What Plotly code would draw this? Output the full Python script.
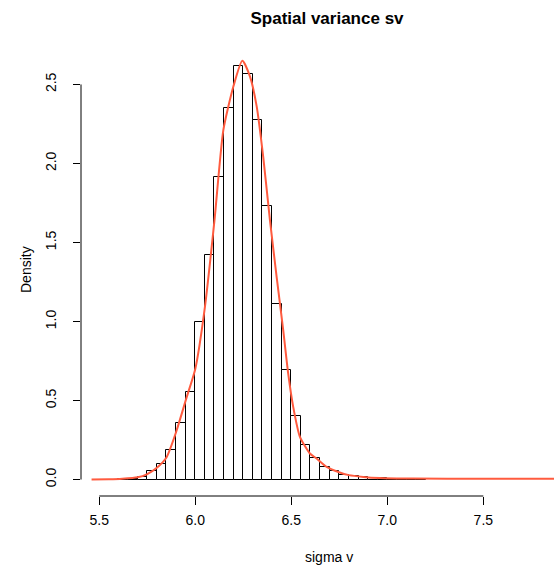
import plotly.graph_objects as go

# Histogram bins (left edges) and densities
bin_left = [5.60, 5.65, 5.70, 5.75, 5.80, 5.85, 5.90, 5.95, 6.00, 6.05, 6.10, 6.15,
            6.20, 6.25, 6.30, 6.35, 6.40, 6.45, 6.50, 6.55, 6.60, 6.65, 6.70, 6.75,
            6.80, 6.85, 6.90, 6.95, 7.00, 7.05, 7.10, 7.15]
bin_density = [0.002, 0.006, 0.017, 0.053, 0.100, 0.185, 0.360, 0.555, 0.997, 1.424,
               1.915, 2.352, 2.616, 2.567, 2.278, 1.732, 1.114, 0.696, 0.400, 0.217,
               0.139, 0.080, 0.053, 0.032, 0.022, 0.015, 0.010, 0.007, 0.005, 0.004,
               0.003, 0.002]
bin_width = 0.05

# Kernel density curve
dens_x = [5.46, 5.55, 5.62, 5.70, 5.75, 5.80, 5.85, 5.90, 5.955, 6.00, 6.05, 6.10,
          6.146, 6.198, 6.245, 6.285, 6.32, 6.354, 6.389, 6.424, 6.458, 6.484, 6.51,
          6.545, 6.597, 6.632, 6.684, 6.745, 6.80, 6.875, 6.96, 7.135, 7.48, 7.87]
dens_y = [0.001, 0.002, 0.005, 0.014, 0.035, 0.075, 0.14, 0.30, 0.52, 0.70, 1.09, 1.64,
          2.21, 2.485, 2.65, 2.55, 2.36, 2.04, 1.64, 1.28, 0.945, 0.67, 0.46,
          0.27, 0.165, 0.133, 0.08, 0.048, 0.028, 0.017, 0.010, 0.006, 0.005, 0.005]

x_ticks = [5.5, 6.0, 6.5, 7.0, 7.5]
x_tick_labels = ["5.5", "6.0", "6.5", "7.0", "7.5"]
y_ticks = [0.0, 0.5, 1.0, 1.5, 2.0, 2.5]
y_tick_labels = ["0.0", "0.5", "1.0", "1.5", "2.0", "2.5"]

title_text = "Spatial variance sv"
x_label = "sigma v"
y_label = "Density"

FONT = "Liberation Sans, Arial, Helvetica, sans-serif"

centers = [b + bin_width / 2 for b in bin_left]

fig = go.Figure()
fig.add_trace(go.Bar(
    x=centers, y=bin_density, width=[bin_width] * len(centers),
    marker=dict(color="white", line=dict(color="black", width=1)),
    hoverinfo="skip", showlegend=False,
))
fig.add_trace(go.Scatter(
    x=dens_x, y=dens_y, mode="lines",
    line=dict(color="#FF5B3F", width=2, shape="spline", smoothing=0.6),
    hoverinfo="skip", showlegend=False,
))

W, H = 554, 567
ml, mr, mt, mb = 81, 0, 44, 71

fig.update_layout(
    width=W, height=H,
    margin=dict(l=ml, r=mr, t=mt, b=mb),
    paper_bgcolor="white", plot_bgcolor="white",
    bargap=0,
    font=dict(family=FONT, size=14, color="black"),
    title=dict(text="<b>" + title_text + "</b>", x=327 / W, xref="container", xanchor="center",
               y=1 - 18 / H, yref="container", yanchor="middle",
               font=dict(family=FONT, size=17, color="black")),
    xaxis=dict(range=[5.405, 7.868], showgrid=False, zeroline=False, showline=False,
               tickmode="array", tickvals=x_ticks, ticktext=x_tick_labels,
               ticks="outside", ticklen=8, tickwidth=1, tickcolor="black",
               ticklabelstandoff=3,
               tickfont=dict(family=FONT, size=14, color="black")),
    yaxis=dict(range=[-0.104, 2.756], showgrid=False, zeroline=False, showline=False,
               tickmode="array", tickvals=y_ticks, ticktext=y_tick_labels,
               ticks="outside", ticklen=7, tickwidth=1, tickcolor="black", tickangle=-90,
               ticklabelstandoff=11,
               tickfont=dict(family=FONT, size=14, color="black")),
    shapes=[
        dict(type="line", xref="x", yref="paper", x0=x_ticks[0], x1=x_ticks[-1], y0=0, y1=0,
             line=dict(color="black", width=1)),
        dict(type="line", xref="paper", yref="y", x0=0, x1=0, y0=y_ticks[0], y1=y_ticks[-1],
             line=dict(color="black", width=1)),
    ],
    annotations=[
        dict(text=x_label, xref="paper", yref="paper", x=(329 - ml) / (W - ml - mr), y=0,
             yshift=-(557 - (H - mb)), showarrow=False, xanchor="center", yanchor="middle",
             font=dict(family=FONT, size=14, color="black")),
        dict(text=y_label, xref="paper", yref="paper", x=0, y=0.5, xshift=-(ml - 26),
             textangle=-90, showarrow=False, xanchor="center", yanchor="middle",
             font=dict(family=FONT, size=14, color="black")),
    ],
)

fig.write_html("out.html")
